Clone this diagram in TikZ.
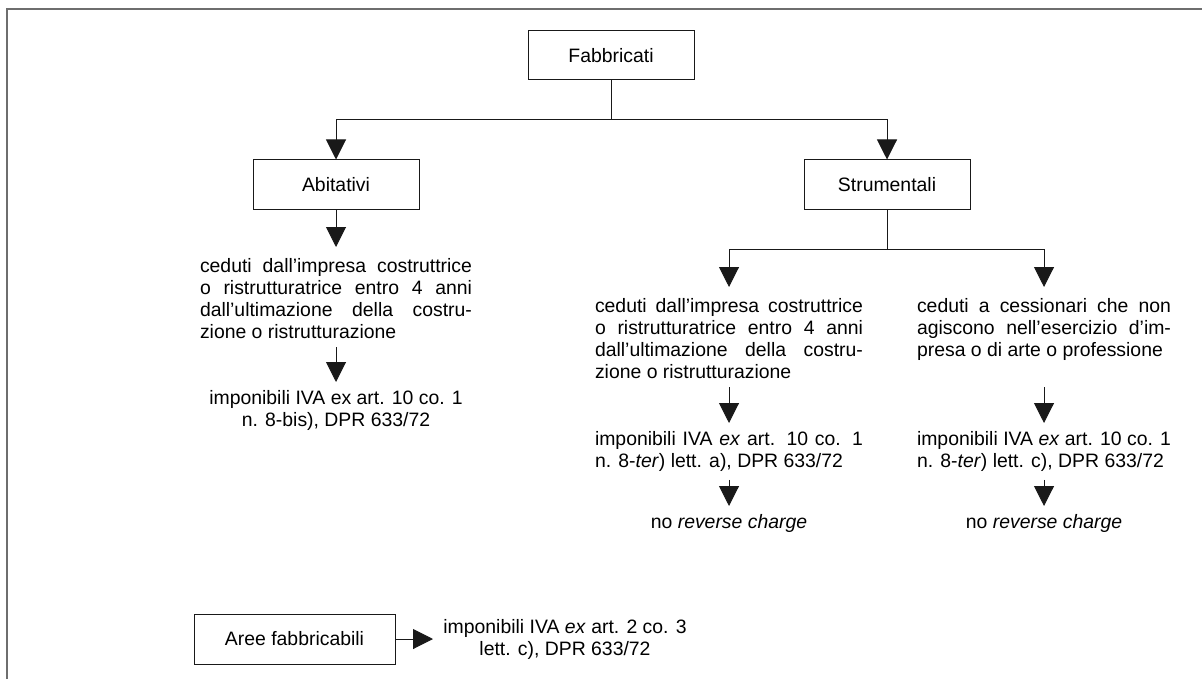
\documentclass[tikz,border=0pt]{standalone}
\usepackage{fontspec}
\setmainfont{Liberation Sans}
\usepackage{tikz}
\usetikzlibrary{arrows.meta}
\definecolor{frameGray}{RGB}{110,110,110}
\definecolor{inkLine}{RGB}{25,25,25}

\begin{document}
\begin{tikzpicture}[x=0.5pt, y=-0.5pt,
    box/.style={draw=inkLine, line width=0.5pt, minimum width=83pt, minimum height=24.5pt,
      inner sep=0pt, font=\fontsize{9.7}{11}\selectfont},
    para/.style={anchor=north, align=justify, text width=#1, inner xsep=0pt, inner ysep=4pt,
      font=\fontsize{9.7}{11}\selectfont},
    note/.style={anchor=north, align=center, inner sep=4pt, font=\fontsize{9.7}{11}\selectfont},
    link/.style={draw=inkLine, line width=0.5pt},
    arr/.style={link, -{Triangle[length=10pt, width=10pt]}}
  ]
    \useasboundingbox (0,0) rectangle (1202,679);
    \draw[frameGray, line width=1pt] (7,679) -- (7,9) -- (1202,9);

    \node[box] (fabbricati) at (611,55.5) {Fabbricati};
    \node[box] (abitativi) at (336,184.5) {Abitativi};
    \node[box] (strumentali) at (887,184.5) {Strumentali};
    \node[box, minimum width=100.5pt, minimum height=25pt] (aree) at (294.5,639) {Aree fabbricabili};
    \coordinate (fork) at (611,120);
    \coordinate (strFork) at (887,249);

    \node[para=136pt] (abitText) at (336,250) {ceduti dall’impresa costruttrice\linebreak
      o ristrutturatrice entro 4 anni\linebreak dall’ultimazione della costru-\linebreak
      zione o ristrutturazione};
    \node[note] (abitIva) at (336,382) {imponibili IVA ex art. 10 co. 1\\ n. 8-bis), DPR 633/72};

    \node[para=134pt] (strText) at (729,290) {ceduti dall’impresa costruttrice\linebreak
      o ristrutturatrice entro 4 anni\linebreak dall’ultimazione della costru-\linebreak
      zione o ristrutturazione};
    \node[para=134pt] (strIva) at (729,423) {imponibili IVA \emph{ex} art. 10 co. 1\linebreak
      n. 8-\emph{ter}) lett. a), DPR 633/72};
    \node[note] (strNo) at (729,506) {no \emph{reverse charge}};

    \node[para=127pt] (cesText) at (1044,290) {ceduti a cessionari che non\linebreak
      agiscono nell’esercizio d’im-\linebreak presa o di arte o professione};
    \node[para=127pt] (cesIva) at (1044,423) {imponibili IVA \emph{ex} art. 10 co. 1\linebreak
      n. 8-\emph{ter}) lett. c), DPR 633/72};
    \node[note] (cesNo) at (1044,506) {no \emph{reverse charge}};

    \node[note, anchor=west, inner xsep=5pt] (areeIva) at (433,639)
      {imponibili IVA \emph{ex} art. 2 co. 3\\ lett. c), DPR 633/72};

    \draw[link] (fabbricati) -- (fork);
    \draw[arr] (fork) -| (abitativi);
    \draw[arr] (fork) -| (strumentali);
    \draw[arr, shorten >=1.5pt] (abitativi) -- (abitText);
    \draw[arr] (abitText) -- (abitIva);
    \draw[link] (strumentali) -- (strFork);
    \draw[arr, shorten >=1.5pt] (strFork) -| (strText);
    \draw[arr, shorten >=1.5pt] (strFork) -| (cesText);
    \draw[arr] (strText) -- (strIva);
    \draw[arr] (cesText.south |- strText.south) -- (cesIva);
    \draw[arr] (strIva) -- (strNo);
    \draw[arr] (cesIva) -- (cesNo);
    \draw[arr] (aree) -- (areeIva);
  \end{tikzpicture}
\end{document}
